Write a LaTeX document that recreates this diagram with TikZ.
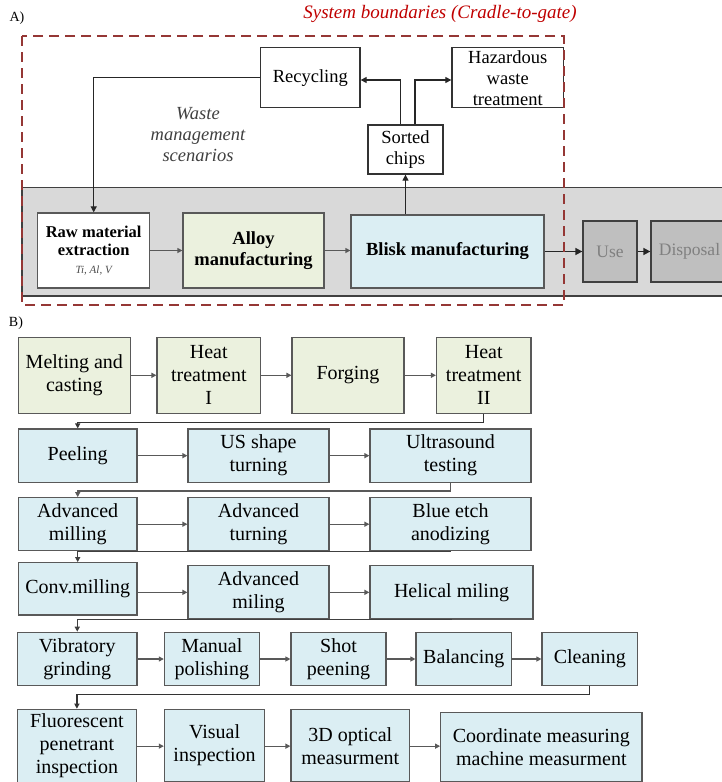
\documentclass[tikz,border=0pt]{standalone}
\usepackage{fontspec}
\setmainfont{Liberation Serif}
\usetikzlibrary{arrows.meta}
\definecolor{gfill}{HTML}{EBF1DE}
\definecolor{bfill}{HTML}{DBEEF3}
\definecolor{bandfill}{HTML}{D9D9D9}
\definecolor{usefill}{HTML}{BFBFBF}
\definecolor{bord}{HTML}{595959}
\definecolor{dred}{HTML}{953735}
\definecolor{tred}{HTML}{C00000}
\newcommand\bx[7]{%
  \pgfmathsetmacro\bxcx{(#2+#4)/2}\pgfmathsetmacro\bxcy{(#3+#5)/2}%
  \pgfmathsetmacro\bxw{#4-#2}\pgfmathsetmacro\bxh{#5-#3}%
  \node[#6, minimum width=\bxw pt, minimum height=\bxh pt] (#1) at (\bxcx,\bxcy) {#7};}
\tikzset{
  box/.style={draw=bord, line width=1.2pt, inner sep=0pt, align=center, font=\fontsize{20}{23}\selectfont},
  gbox/.style={box, fill=gfill},
  bbox/.style={box, fill=bfill},
  tbox/.style={draw=black!80, line width=1.3pt, fill=white, inner sep=0pt, align=center, font=\fontsize{18.5}{21}\selectfont},
  usebox/.style={draw=black!75, line width=1.3pt, fill=usefill, inner sep=0pt, align=center, text=black!50, font=\fontsize{17.5}{21}\selectfont},
  conn/.style={draw=bord, line width=1.2pt, -{Triangle[length=5pt,width=5pt]}},
  tconn/.style={draw=black!85, line width=1.2pt, -{Triangle[length=6pt,width=6pt]}},
  kconn/.style={draw=black!85, line width=1.6pt, -{Triangle[length=7pt,width=7pt]}},
}
\begin{document}
\begin{tikzpicture}[x=1pt,y=-1pt]
\clip (0,0) rectangle (722,782);
\fill[white] (0,0) rectangle (722,782);
% band
\fill[bandfill] (22,187.7) rectangle (740,296);
\draw[line width=1.3pt, draw=black!75] (22,187.7) rectangle (740,296);
% labels
\node[font=\fontsize{14}{16}\selectfont] (lA) at (17,18) {A)};
\node[font=\fontsize{14}{16}\selectfont] (lB) at (16,323) {B)};
\node[text=tred, font=\fontsize{19}{22}\selectfont\itshape] (title) at (440,14) {System boundaries (Cradle-to-gate)};
\node[font=\fontsize{18.5}{21}\selectfont\itshape, text=black!75, align=center] (waste) at (198,135) {Waste\\management\\scenarios};
% top boxes
\bx{rec}{260.6}{47.7}{360}{107.7}{tbox}{Recycling}
\bx{haz}{452}{47.7}{563.5}{107.7}{tbox}{Hazardous\\waste\\treatment}
\bx{chips}{368}{125}{443}{174}{tbox}{Sorted\\chips}
\bx{raw}{37.8}{213}{149.6}{288}{tbox, draw=bord, font=\fontsize{16.5}{18.3}\selectfont\bfseries}{Raw material\\extraction\\{\fontsize{11}{13}\selectfont\mdseries\itshape\color{black!70}Ti, Al, V}}
\bx{alloy}{183}{213}{324}{288}{gbox, font=\fontsize{18.5}{20.5}\selectfont\bfseries}{Alloy\\manufacturing}
\bx{blisk}{351}{215}{544}{288}{bbox, font=\fontsize{18.5}{20.5}\selectfont\bfseries}{Blisk manufacturing}
\bx{use}{583}{221}{637}{282}{usebox}{Use}
\bx{disp}{651}{221}{728}{282}{usebox}{Disposal}
% top connectors
\draw[conn] (raw.east) -- (alloy.west);
\draw[conn] (alloy.east) -- (alloy.east -| blisk.west);
\draw[kconn] (blisk.east |- use.west) -- (use.west);
\draw[kconn] (use.east) -- (disp.west);
\draw[tconn] (rec.west) -| (raw.north);
\draw[tconn] ([xshift=-5pt]chips.north) |- ([yshift=-2.3pt]rec.east);
\draw[tconn] ([xshift=9.5pt]chips.north) |- ([yshift=-2.3pt]haz.west);
\draw[tconn] (chips.south |- blisk.north) -- (chips.south);
% system boundary
\draw[dred, line width=2pt, dash pattern=on 10pt off 6pt] (22,36) rectangle (563.5,305);
% section B
\bx{m1}{18.4}{337.3}{130.3}{413.3}{gbox}{Melting and\\casting}
\bx{m2}{157}{337.3}{260.6}{413.3}{gbox}{Heat\\treatment\\I}
\bx{m3}{292}{337.3}{404}{413.3}{gbox}{Forging}
\bx{m4}{436.5}{337.3}{531}{413.3}{gbox}{Heat\\treatment\\II}
\bx{p1}{18.4}{429}{137}{482.3}{bbox}{Peeling}
\bx{p2}{188}{429}{329}{482.3}{bbox}{US shape\\turning}
\bx{p3}{370}{429}{531}{482.3}{bbox}{Ultrasound\\testing}
\bx{a1}{18.4}{497.7}{137}{550.7}{bbox}{Advanced\\milling}
\bx{a2}{188}{497.7}{329}{550.7}{bbox}{Advanced\\turning}
\bx{a3}{370}{497.7}{531}{550.7}{bbox}{Blue etch\\anodizing}
\bx{c1}{18.4}{562.7}{137}{615}{bbox}{Conv.milling}
\bx{c2}{188}{565.7}{329}{619}{bbox}{Advanced\\miling}
\bx{c3}{370}{565.7}{533}{619}{bbox}{Helical miling}
\bx{v1}{17.5}{632.3}{137}{685.7}{bbox}{Vibratory\\grinding}
\bx{v2}{164.4}{632.3}{259.2}{685.7}{bbox}{Manual\\polishing}
\bx{v3}{291}{632.3}{386}{685.7}{bbox}{Shot\\peening}
\bx{v4}{416}{632.3}{511.5}{685.7}{bbox}{Balancing}
\bx{v5}{542}{632.3}{637.7}{685.7}{bbox}{Cleaning}
\bx{f1}{17.5}{709.3}{136.3}{783}{bbox}{Fluorescent\\penetrant\\inspection}
\bx{f2}{164.4}{709.3}{264.8}{782}{bbox}{Visual\\inspection}
\bx{f3}{291}{709.3}{409.6}{782}{bbox}{3D optical\\measurment}
\bx{f4}{440.7}{712.3}{642}{782}{bbox}{Coordinate measuring\\machine measurment}
% row connectors
\draw[conn] (m1.east) -- (m2.west);
\draw[conn] (m2.east) -- (m3.west);
\draw[conn] (m3.east) -- (m4.west);
\draw[conn] (p1.east) -- (p2.west);
\draw[conn] (p2.east) -- (p3.west);
\draw[conn] (a1.east) -- (a2.west);
\draw[conn] (a2.east) -- (a3.west);
\draw[conn] (c1.east |- c2.west) -- (c2.west);
\draw[conn] (c2.east) -- (c3.west);
\draw[conn] (v1.east) -- (v2.west);
\draw[conn] (v2.east) -- (v3.west);
\draw[conn] (v3.east) -- (v4.west);
\draw[conn] (v4.east) -- (v5.west);
\draw[conn] (f1.east) -- (f1.east -| f2.west);
\draw[conn] (f2.east |- f1.east) -- (f1.east -| f3.west);
\draw[conn] (f3.east |- f1.east) -- (f1.east -| f4.west);
% between rows
\draw[conn, draw=black!80] (m4.south) -- ++(0,8.4) -| (p1.north);
\draw[conn] (p3.south) -- ++(0,8) -| (a1.north);
\draw[conn, draw=black!75] (a3.south) -| (c1.north);
\draw[conn, draw=black!75] (c3.south) -| (v1.north);
\draw[conn, draw=black!80] (v5.south) -- ++(0,8.3) -| (f1.north);
\end{tikzpicture}
\end{document}
